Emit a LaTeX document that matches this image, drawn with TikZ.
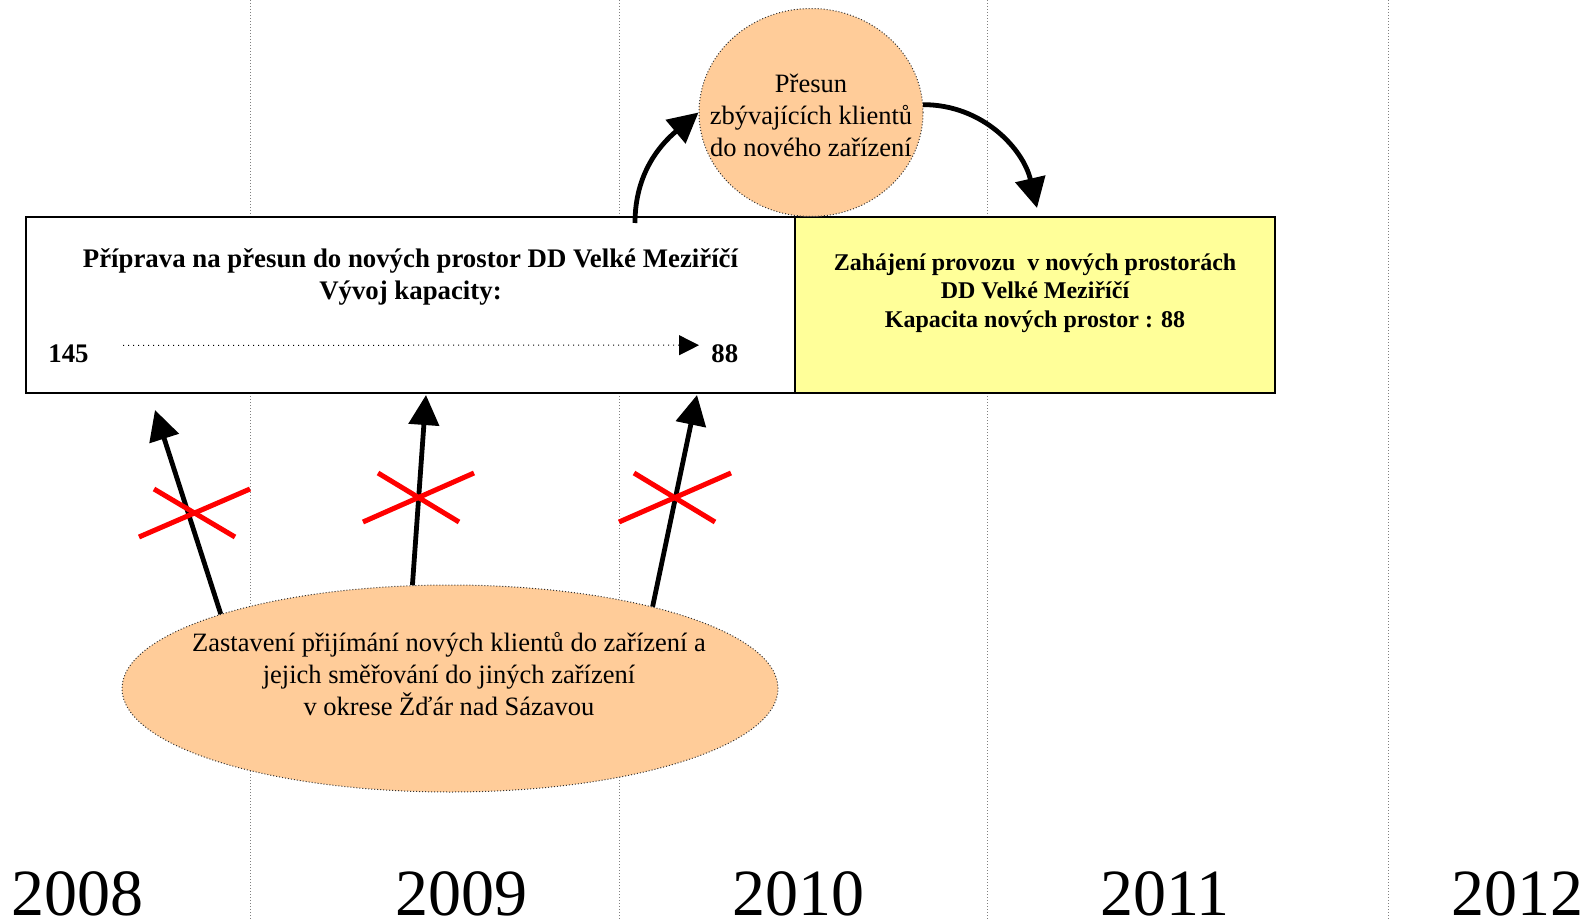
\documentclass[tikz,border=0pt]{standalone}
\usepackage{fontspec}
\setmainfont{Liberation Serif}
\usetikzlibrary{arrows.meta}
\usetikzlibrary{positioning,shapes}
\definecolor{peach}{HTML}{FFCC99}
\definecolor{paleyellow}{HTML}{FFFF99}
\tikzset{
  every node/.style={font=\rmfamily}
}
\begin{document}
\begin{tikzpicture}[x=0.5pt,y=-0.5pt]
  % Define styles for boxes, bubbles and arrows
  \tikzset{
    box/.style={
      draw=black,
      rectangle,
      line width=1pt,
      minimum height=88pt,
      inner sep=0pt
    },
    bubble/.style={
      draw=black!80,
      densely dotted,
      ellipse,
      fill=peach,
      inner sep=0pt,
      line width=0.5pt
    },
    bigarrow/.style={
      draw=black,
      line width=2.4pt,
      -{Triangle[length=15pt, width=15pt]}
    },
    redcross/.style={
      draw=red,
      line width=2.5pt
    },
    gridline/.style={
      draw=black!50,
      densely dotted,
      line width=0.5pt
    },
    year/.style={
      anchor=base,
      inner sep=0pt,
      font=\fontsize{33}{36}\selectfont
    }
  }
  \useasboundingbox (0,0) rectangle (1589,919);

  % Year separators
  \draw[gridline] (250,0) -- (250,919);
  \draw[gridline] (619,0) -- (619,919);
  \draw[gridline] (987,0) -- (987,919);
  \draw[gridline] (1388,0) -- (1388,919);

  % Boxes and bubbles
  \node[box, fill=white, minimum width=384.5pt] (prep) at (410.5,305) {};
  \node[box, fill=paleyellow, minimum width=240pt] (start) at (1035,305) {};
  \node[bubble, minimum width=112pt, minimum height=104pt] (move) at (811,112.5) {};
  \node[bubble, minimum width=328pt, minimum height=103.5pt] (stop) at (450,688.5) {};

  % Texts
  \node[align=center, font=\bfseries\fontsize{13.4}{16}\selectfont] (preptitle) at (410.5,277) {Příprava na přesun do nových prostor DD Velké Meziříčí\\Vývoj kapacity:};
  \node[anchor=base west, inner sep=0pt, font=\bfseries\fontsize{13.4}{16}\selectfont] (cap145) at (48,363) {145};
  \node[anchor=base west, inner sep=0pt, font=\bfseries\fontsize{13.4}{16}\selectfont] (cap88) at (711,363) {88};
  \node[align=center, font=\bfseries\fontsize{12}{14.2}\selectfont] (starttext) at (1035,293) {Zahájení provozu\ \ v nových prostorách\\DD Velké Meziříčí\\Kapacita nových prostor : 88};
  \node[align=center, font=\fontsize{13.25}{16}\selectfont] (movetext) at (811,115) {Přesun\\zbývajících klientů\\do nového zařízení};
  \node[align=center, font=\fontsize{13.25}{16}\selectfont] (stoptext) at (449,674.5) {Zastavení přijímání nových klientů do zařízení a\\jejich směřování do jiných zařízení\\v okrese Žďár nad Sázavou};

  % Capacity arrow
  \draw[dotted, line width=0.5pt, -{Triangle[length=10pt, width=10pt]}, shorten <=17pt, shorten >=6pt] ([yshift=4.5pt]cap145.east) -- ([yshift=4.5pt]cap88.west);

  % Arrows around the bubble
  \coordinate (lift) at (635,223);
  \coordinate (land) at (1037,208);
  \draw[bigarrow] (lift) to[out=90, in=220] (move.west);
  \draw[bigarrow] (move.4) to[out=0, in=103] (land);

  % Arrows from the bottom bubble
  \coordinate (tip1) at (155,410);
  \coordinate (tip2) at (426,395);
  \coordinate (tip3) at (697,395);
  \draw[bigarrow] (stop.162) -- (tip1);
  \draw[bigarrow] (stop.110) -- (tip2);
  \draw[bigarrow] (stop.22) -- (tip3);

  % Red crosses
  \draw[redcross] (139,537) -- (250,489);
  \draw[redcross] (154,489) -- (235,537);
  \draw[redcross] (363,522) -- (474,473);
  \draw[redcross] (378,473) -- (459,522);
  \draw[redcross] (619,522) -- (731,473);
  \draw[redcross] (634,473) -- (715,522);

  % Years
  \node[year] (y2008) at (77,915) {2008};
  \node[year] (y2009) at (461,915) {2009};
  \node[year] (y2010) at (798,915) {2010};
  \node[year] (y2011) at (1165,915) {2011};
  \node[year] (y2012) at (1517,915) {2012};
\end{tikzpicture}
\end{document}
